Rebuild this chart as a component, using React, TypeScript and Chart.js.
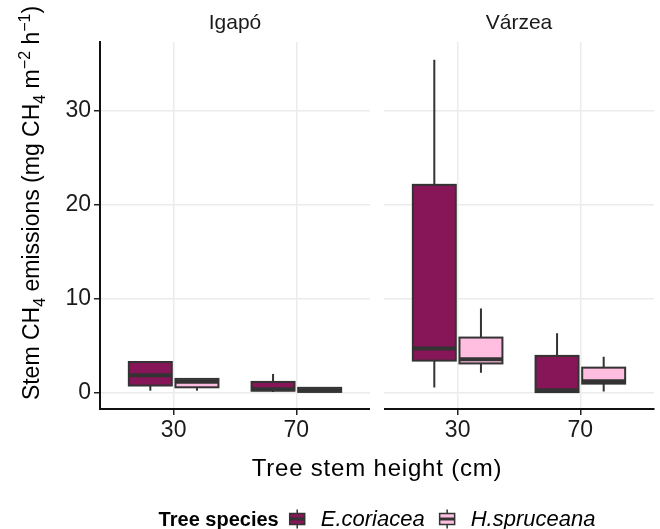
import React, { useEffect, useRef } from "react";
import { Chart, registerables } from "chart.js";

Chart.register(...registerables);

// ---- data ----
const forests = ["Igapó", "Várzea"];
const heightLabels = ["30", "70"];
const species = ["E.coriacea", "H.spruceana"];
const speciesColors = ["#861657", "#FFBEDF"];

// order: Igapó-30, Igapó-70, Várzea-30, Várzea-70
const ecorMin = [0.2, 0.07, 0.55, 0.0];
const ecorQ1 = [0.75, 0.2, 3.4, 0.05];
const ecorMed = [1.85, 0.35, 4.7, 0.25];
const ecorQ3 = [3.25, 1.13, 22.1, 3.9];
const ecorMax = [3.25, 1.97, 35.4, 6.3];

const hsprMin = [0.2, 0.07, 2.1, 0.1];
const hsprQ1 = [0.56, 0.07, 3.1, 0.95];
const hsprMed = [1.15, 0.25, 3.55, 1.2];
const hsprQ3 = [1.45, 0.5, 5.85, 2.65];
const hsprMax = [1.45, 0.5, 8.95, 3.8];

const yTicks = [0, 10, 20, 30];

// ---- layout (scale units) ----
const PANEL_SPAN = 2.2; // 0.4 .. 2.6 per panel
const PANEL_GAP = 0.114;
const X_MIN = 0.4;
const X_MAX = X_MIN + PANEL_SPAN * 2 + PANEL_GAP;
const DODGE = 0.19;
const HALF_W = 0.175;

const centerFor = (k: number) => {
  const panel = Math.floor(k / 2);
  const i = k % 2;
  return i + 1 + panel * (PANEL_SPAN + PANEL_GAP);
};
const xTickValues = [0, 1, 2, 3].map(centerFor);
const xTickLabels = [...heightLabels, ...heightLabels];

const stats = [
  { min: ecorMin, q1: ecorQ1, med: ecorMed, q3: ecorQ3, max: ecorMax },
  { min: hsprMin, q1: hsprQ1, med: hsprMed, q3: hsprQ3, max: hsprMax },
];

const FONT = "'Liberation Sans', Arial, Helvetica, sans-serif";
const OUTLINE = "#333333";

const boxPlugin = {
  id: "boxes",
  beforeDatasetsDraw(chart: any) {
    const { ctx, chartArea, scales } = chart;
    const x = scales.x;
    const gx0 = x.getPixelForValue(X_MIN + PANEL_SPAN);
    const gx1 = x.getPixelForValue(X_MIN + PANEL_SPAN + PANEL_GAP);
    ctx.save();
    ctx.fillStyle = "#ffffff";
    ctx.fillRect(gx0, chartArea.top - 2, gx1 - gx0, chartArea.bottom - chartArea.top + 4);
    ctx.restore();
  },
  afterDatasetsDraw(chart: any) {
    const { ctx, scales } = chart;
    const x = scales.x;
    const y = scales.y;
    const halfPx = x.getPixelForValue(HALF_W) - x.getPixelForValue(0);
    ctx.save();
    stats.forEach((st, s) => {
      for (let k = 0; k < 4; k++) {
        const xc = centerFor(k) + (s === 0 ? -DODGE : DODGE);
        const px = x.getPixelForValue(xc);
        const yMin = y.getPixelForValue(st.min[k]);
        const yQ1 = y.getPixelForValue(st.q1[k]);
        const yMed = y.getPixelForValue(st.med[k]);
        const yQ3 = y.getPixelForValue(st.q3[k]);
        const yMax = y.getPixelForValue(st.max[k]);
        ctx.strokeStyle = OUTLINE;
        ctx.lineWidth = 2;
        ctx.beginPath();
        ctx.moveTo(px, yMax);
        ctx.lineTo(px, yQ3);
        ctx.moveTo(px, yQ1);
        ctx.lineTo(px, yMin);
        ctx.stroke();
        ctx.fillStyle = speciesColors[s];
        ctx.fillRect(px - halfPx, yQ3, halfPx * 2, yQ1 - yQ3);
        ctx.strokeRect(px - halfPx, yQ3, halfPx * 2, yQ1 - yQ3);
        ctx.lineWidth = 4;
        ctx.beginPath();
        ctx.moveTo(px - halfPx, yMed);
        ctx.lineTo(px + halfPx, yMed);
        ctx.stroke();
      }
    });
    ctx.restore();
  },
  afterDraw(chart: any) {
    const { ctx, chartArea, scales } = chart;
    const x = scales.x;
    ctx.save();
    // strip labels
    ctx.fillStyle = "#1a1a1a";
    ctx.font = `21px ${FONT}`;
    ctx.textAlign = "center";
    ctx.textBaseline = "alphabetic";
    forests.forEach((f, p) => {
      const c = x.getPixelForValue(X_MIN + PANEL_SPAN / 2 + p * (PANEL_SPAN + PANEL_GAP));
      ctx.fillText(f, c, 29);
    });
    // x title
    ctx.fillStyle = "#000";
    ctx.font = `24px ${FONT}`;
    (ctx as any).letterSpacing = "0.8px";
    const xc = (chartArea.left + chartArea.right) / 2;
    ctx.fillText("Tree stem height (cm)", xc, 476);
    (ctx as any).letterSpacing = "0px";

    // y title (rotated, with sub/superscripts)
    const main = 23;
    const small = 16;
    const runs: [string, number, number][] = [
      ["Stem CH", main, 0],
      ["4", small, 6],
      [" emissions (mg CH", main, 0],
      ["4", small, 6],
      [" m", main, 0],
      ["\u22122", small, -9],
      [" h", main, 0],
      ["\u22121", small, -9],
      [")", main, 0],
    ];
    let total = 0;
    runs.forEach(([t, sz]) => {
      ctx.font = `${sz}px ${FONT}`;
      total += ctx.measureText(t).width;
    });
    ctx.translate(39, 203);
    ctx.rotate(-Math.PI / 2);
    ctx.textAlign = "left";
    let cx = -total / 2;
    runs.forEach(([t, sz, dy]) => {
      ctx.font = `${sz}px ${FONT}`;
      ctx.fillText(t, cx, dy);
      cx += ctx.measureText(t).width;
    });
    ctx.setTransform(1, 0, 0, 1, 0, 0);

    // legend
    const ly = 519;
    const keyW = 17;
    ctx.textBaseline = "middle";
    ctx.textAlign = "left";
    ctx.font = `bold 20px ${FONT}`;
    const titleW = ctx.measureText("Tree species").width;
    ctx.font = `italic 22px ${FONT}`;
    const labW = species.map((s) => ctx.measureText(s).width);
    const totalW = titleW + 10 + (keyW + 15) * 2 + labW[0] + 14 + labW[1];
    let lx = xc - totalW / 2;
    ctx.font = `bold 20px ${FONT}`;
    ctx.fillStyle = "#000";
    ctx.fillText("Tree species", lx, ly + 1);
    lx += titleW + 10;
    species.forEach((sp, s) => {
      const top = ly - keyW / 2;
      ctx.strokeStyle = OUTLINE;
      ctx.lineWidth = 1.5;
      ctx.beginPath();
      ctx.moveTo(lx + keyW / 2, top - 1);
      ctx.lineTo(lx + keyW / 2, top + keyW + 1);
      ctx.stroke();
      ctx.fillStyle = speciesColors[s];
      ctx.fillRect(lx + 1, top + 3, keyW - 2, keyW - 6);
      ctx.strokeRect(lx + 1, top + 3, keyW - 2, keyW - 6);
      ctx.lineWidth = 3;
      ctx.beginPath();
      ctx.moveTo(lx + 1, ly);
      ctx.lineTo(lx + keyW - 1, ly);
      ctx.stroke();
      lx += keyW + 15;
      ctx.font = `italic 22px ${FONT}`;
      ctx.fillStyle = "#000";
      ctx.fillText(sp, lx, ly + 1);
      lx += labW[s] + 14;
    });
    ctx.restore();
  },
};

export default function App() {
  const ref = useRef<HTMLCanvasElement>(null);
  useEffect(() => {
    if (!ref.current) return;
    const datasets = species.map((sp, s) => ({
      label: sp,
      data: [0, 1, 2, 3].map((k) => ({
        x: centerFor(k) + (s === 0 ? -DODGE : DODGE),
        y: stats[s].med[k],
      })),
      pointRadius: 0,
      pointHoverRadius: 0,
      showLine: false,
    }));
    const chart = new Chart(ref.current, {
      type: "scatter",
      data: { datasets },
      options: {
        responsive: false,
        animation: false,
        devicePixelRatio: 1,
        layout: { padding: { left: 0, top: 42, right: 6, bottom: 80 } },
        plugins: { legend: { display: false }, tooltip: { enabled: false } },
        scales: {
          x: {
            type: "linear",
            min: X_MIN,
            max: X_MAX,
            afterBuildTicks: (s: any) => {
              s.ticks = xTickValues.map((v) => ({ value: v }));
            },
            afterFit: (s: any) => {
              s.height = 40;
            },
            ticks: {
              callback: (_v: any, i: number) => xTickLabels[i],
              font: { size: 23, family: FONT },
              color: "#1a1a1a",
              padding: 2,
              maxRotation: 0,
              autoSkip: false,
            },
            grid: { color: "#EBEBEB", lineWidth: 1.5, tickColor: "#222", tickLength: 6 },
            border: { display: true, color: "#111", width: 2 },
          },
          y: {
            type: "linear",
            min: -1.75,
            max: 37.3,
            afterBuildTicks: (s: any) => {
              s.ticks = yTicks.map((v) => ({ value: v }));
            },
            afterFit: (s: any) => {
              s.width = 100;
            },
            ticks: {
              font: { size: 23, family: FONT },
              color: "#1a1a1a",
              padding: 3,
            },
            grid: { color: "#EBEBEB", lineWidth: 1.5, tickColor: "#222", tickLength: 6 },
            border: { display: true, color: "#111", width: 2 },
          },
        },
      },
      plugins: [boxPlugin],
    });
    return () => chart.destroy();
  }, []);
  return (
    <div style={{ position: "fixed", left: 0, top: 0, width: 660, height: 529, background: "#fff" }}>
      <canvas ref={ref} width={660} height={529} style={{ width: 660, height: 529 }} />
    </div>
  );
}
